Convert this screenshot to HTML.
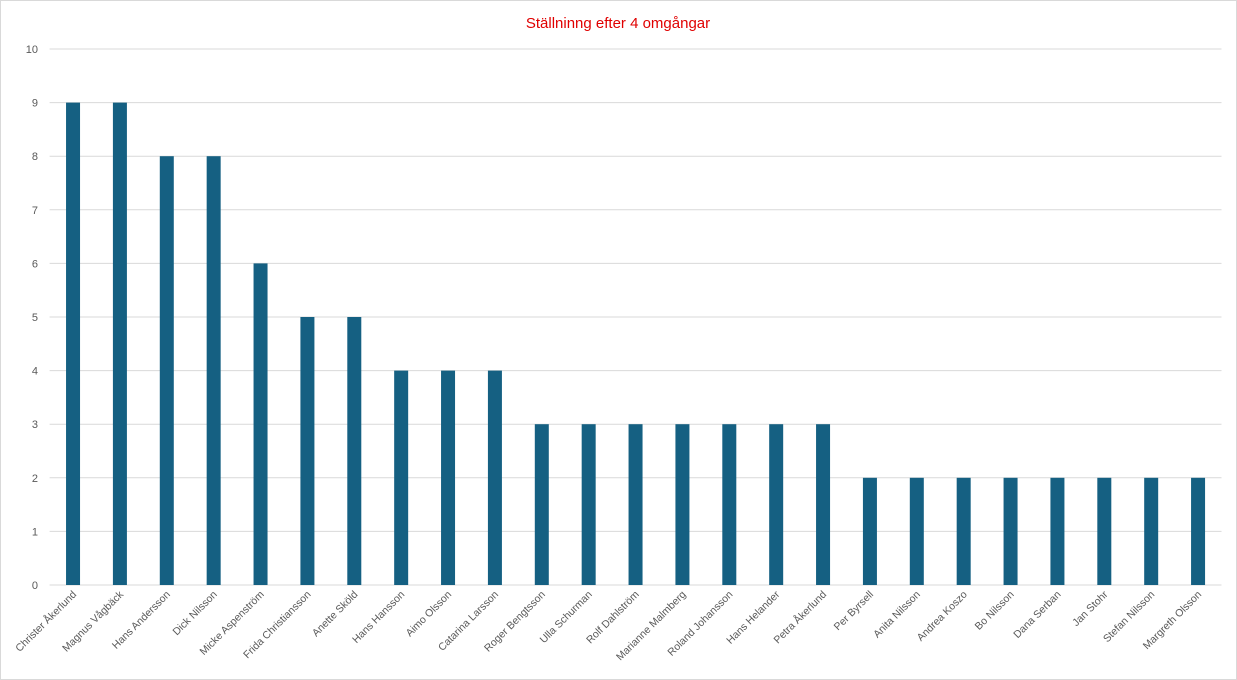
<!DOCTYPE html>
<html><head><meta charset="utf-8"><style>
body{margin:0;background:#fff}
svg{display:block;font-family:"Liberation Sans",sans-serif}
</style></head><body>
<svg id="c" width="1237" height="680">
<rect x="0.5" y="0.5" width="1236" height="679" fill="#fff" stroke="#d9d9d9"/>
<text x="618" y="28" text-anchor="middle" font-size="15" fill="#e00000">Ställninng efter 4 omgångar</text>
<g id="grid"></g><g id="bars"></g><g id="labels"></g>
</svg>
<script>
const categories=["Christer Åkerlund","Magnus Vågbäck","Hans Andersson","Dick Nilsson","Micke Aspenström","Frida Christiansson","Anette Sköld","Hans Hansson","Aimo Olsson","Catarina Larsson","Roger Bengtsson","Ulla Schurman","Rolf Dahlström","Marianne Malmberg","Roland Johansson","Hans Helander","Petra Åkerlund","Per Byrsell","Anita Nilsson","Andrea Koszo","Bo Nilsson","Dana Serban","Jan Stohr","Stefan Nilsson","Margreth Olsson"];
const values=[9,9,8,8,6,5,5,4,4,4,3,3,3,3,3,3,3,2,2,2,2,2,2,2,2];
const yTicks=[0,1,2,3,4,5,6,7,8,9,10];
const ns="http://www.w3.org/2000/svg";
const x0=49.6,x1=1221.5,y0=585,y1=49,yMax=10;
const step=(x1-x0)/categories.length;
const yS=v=>y0-(y0-y1)*v/yMax;
const xC=i=>x0+step*(i+0.5);
function mk(t,a,p){const e=document.createElementNS(ns,t);for(const k in a)e.setAttribute(k,a[k]);document.getElementById(p).appendChild(e);return e;}
yTicks.forEach(v=>{
 const l=mk('line',{x1:x0,x2:x1,y1:yS(v),y2:yS(v),stroke:'#d9d9d9','stroke-width':1},'grid');
 
 
 const t=mk('text',{x:38,y:yS(v)+4,'text-anchor':'end','font-size':11,fill:'#595959'},'grid');
 t.textContent=v;
 
 
});
values.forEach((v,i)=>{
 const b=mk('rect',{x:xC(i)-7,y:yS(v),width:14,height:y0-yS(v),fill:'#156082'},'bars');
 
 
 const t=mk('text',{'text-anchor':'end','font-size':10.5,fill:'#595959',transform:`translate(${xC(i)+4},${y0+10}) rotate(-45)`},'labels');
 t.textContent=categories[i];
 
 
});
</script>
</body></html>
